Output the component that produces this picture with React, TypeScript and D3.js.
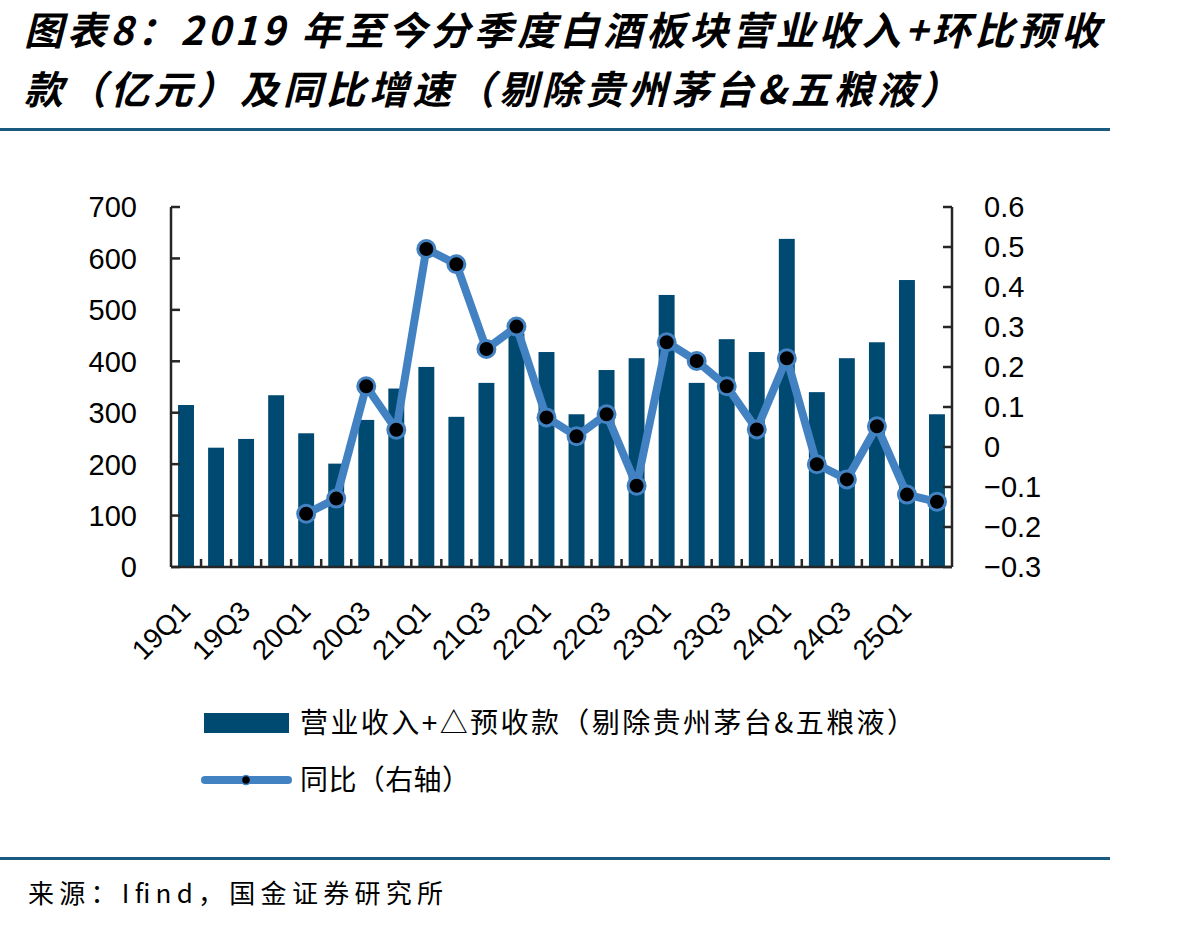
import React from 'react';
import * as d3 from 'd3';

const quarters = [
  '19Q1', '19Q2', '19Q3', '19Q4', '20Q1', '20Q2', '20Q3', '20Q4',
  '21Q1', '21Q2', '21Q3', '21Q4', '22Q1', '22Q2', '22Q3', '22Q4',
  '23Q1', '23Q2', '23Q3', '23Q4', '24Q1', '24Q2', '24Q3', '24Q4',
  '25Q1', '25Q2'
];

// 营业收入+△预收款（亿元）
const revenue = [
  315, 232, 249, 334, 260, 201, 286, 347,
  389, 292, 358, 454, 418, 297, 383, 406,
  529, 358, 443, 418, 638, 340, 406, 437,
  558, 297
];

// 同比（右轴），19年没有
const yoy: (number | null)[] = [
  null, null, null, null, -0.167, -0.129, 0.152, 0.043,
  0.495, 0.457, 0.245, 0.301, 0.074, 0.027, 0.082, -0.097,
  0.262, 0.215, 0.152, 0.044, 0.222, -0.043, -0.081, 0.052,
  -0.119, -0.137
];

const leftTicks = [0, 100, 200, 300, 400, 500, 600, 700];
const rightTicks = [-0.3, -0.2, -0.1, 0, 0.1, 0.2, 0.3, 0.4, 0.5, 0.6];

const W = 1204;
const H = 928;
const plot = { left: 171, right: 952, top: 207, bottom: 567 };

const barColor = '#004a72';
const lineColor = '#4282c2';
const axisColor = '#262626';
const ruleColor = '#1b5a80';
const numFont = '"Liberation Sans", Arial, sans-serif';
const cjkFont = '"Noto Sans CJK SC", sans-serif';

export default function App() {
  const x = d3.scaleBand().domain(quarters).range([plot.left, plot.right]).paddingInner(0.47).paddingOuter(0.235);
  const step = (plot.right - plot.left) / quarters.length;
  const yL = d3.scaleLinear().domain([0, 700]).range([plot.bottom, plot.top]);
  const yR = d3.scaleLinear().domain([-0.3, 0.6]).range([plot.bottom, plot.top]);

  const cx = (q: string) => (x(q) as number) + x.bandwidth() / 2;
  const pts = quarters
    .map((q, i) => ({ q, v: yoy[i] }))
    .filter((d) => d.v !== null) as { q: string; v: number }[];
  const line = d3
    .line<{ q: string; v: number }>()
    .x((d) => cx(d.q))
    .y((d) => yR(d.v));

  return (
    <svg width={W} height={H} style={{ position: 'absolute', left: 0, top: 0, background: '#fff' }}>
      {/* 标题 */}
      <g fontFamily={cjkFont} fontWeight={700} fontStyle="italic" fontSize={39} fill="#000">
        <text x={24} y={45} textLength={1076} lengthAdjust="spacing">图表8：2019 年至今分季度白酒板块营业收入+环比预收</text>
        <text x={24} y={104} textLength={935} lengthAdjust="spacing">款（亿元）及同比增速（剔除贵州茅台&amp;五粮液）</text>
      </g>
      <rect x={0} y={128} width={1110} height={3} fill={ruleColor} />

      {/* 柱 */}
      {quarters.map((q, i) => (
        <rect key={q} x={x(q)} y={yL(revenue[i])} width={x.bandwidth()} height={yL(0) - yL(revenue[i])} fill={barColor} />
      ))}

      {/* 坐标轴 */}
      <g stroke={axisColor} strokeWidth={2.5} fill="none">
        <line x1={plot.left} x2={plot.left} y1={plot.top} y2={plot.bottom} />
        <line x1={plot.right} x2={plot.right} y1={plot.top} y2={plot.bottom} />
        <line x1={plot.left} x2={plot.right} y1={plot.bottom} y2={plot.bottom} />
        {leftTicks.map((t) => (
          <line key={'l' + t} x1={plot.left} x2={plot.left + 9} y1={yL(t)} y2={yL(t)} />
        ))}
        {rightTicks.map((t) => (
          <line key={'r' + t} x1={plot.right - 9} x2={plot.right} y1={yR(t)} y2={yR(t)} />
        ))}
        {quarters.slice(1).map((q, i) => (
          <line key={'b' + q} x1={plot.left + step * (i + 1)} x2={plot.left + step * (i + 1)} y1={plot.bottom} y2={plot.bottom - 8} />
        ))}
      </g>

      <g fontFamily={numFont} fontSize={29} fill="#000">
        {leftTicks.map((t) => (
          <text key={'lt' + t} x={137} y={yL(t)} dy="0.36em" textAnchor="end">{t}</text>
        ))}
        {rightTicks.map((t) => (
          <text key={'rt' + t} x={984} y={yR(t)} dy="0.36em">{d3.format('.1~f')(t)}</text>
        ))}
      </g>
      <g fontFamily={numFont} fontSize={28} fill="#000">
        {quarters.map((q, i) =>
          i % 2 === 0 ? (
            <text key={'xt' + q} textAnchor="end" transform={`translate(${cx(q) + 6},${plot.bottom + 46}) rotate(-45)`}>{q}</text>
          ) : null
        )}
      </g>

      {/* 折线 */}
      <path d={line(pts) || ''} fill="none" stroke={lineColor} strokeWidth={8} strokeLinejoin="round" />
      {pts.map((d) => (
        <circle key={'c' + d.q} cx={cx(d.q)} cy={yR(d.v)} r={8.5} fill="#000" stroke={lineColor} strokeWidth={3} />
      ))}

      {/* 图例 */}
      <rect x={204} y={713} width={85} height={20} fill={barColor} />
      <line x1={205} x2={288} y1={780} y2={780} stroke={lineColor} strokeWidth={8} strokeLinecap="round" />
      <circle cx={246} cy={780} r={4.5} fill="#000" stroke={lineColor} strokeWidth={1.5} />
      <g fontFamily={cjkFont} fontSize={28} fill="#000">
        <text x={300} y={733} textLength={615} lengthAdjust="spacing">营业收入+△预收款（剔除贵州茅台&amp;五粮液）</text>
        <text x={300} y={790} textLength={170} lengthAdjust="spacing">同比（右轴）</text>
      </g>

      <rect x={0} y={857} width={1110} height={3} fill={ruleColor} />
      <text x={28} y={903} fontFamily={cjkFont} fontSize={26} fill="#000" textLength={415} lengthAdjust="spacing">来源：Ifind，国金证券研究所</text>
    </svg>
  );
}
